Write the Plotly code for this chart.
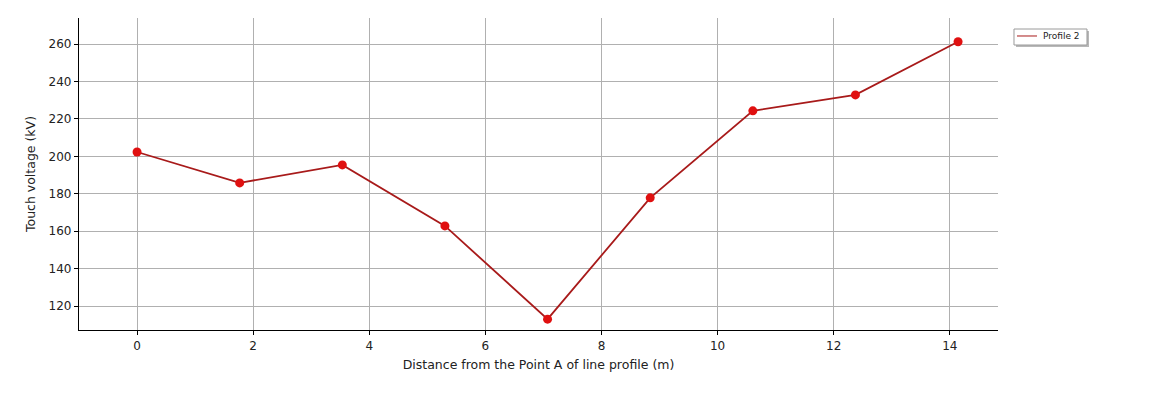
import plotly.graph_objects as go

distance = [0.0, 1.768, 3.536, 5.303, 7.071, 8.839, 10.607, 12.374, 14.142]
touch_voltage = [202.3, 185.8, 195.4, 162.8, 113.0, 177.8, 224.3, 232.8, 261.2]
series_name = "Profile 2"

LINE_COLOR = "#a81a1a"
MARKER_COLOR = "#e01010"

fig = go.Figure()
fig.add_trace(go.Scatter(
    x=distance, y=touch_voltage, mode="lines+markers", name=series_name,
    line=dict(color=LINE_COLOR, width=1.8),
    marker=dict(color=MARKER_COLOR, size=9),
    showlegend=False,
))

axis_common = dict(
    showgrid=True, gridcolor="#b0b0b0", gridwidth=1,
    showline=True, linecolor="black", linewidth=1.2,
    ticks="outside", ticklen=4, tickcolor="black",
    zeroline=False, mirror=False,
    tickfont=dict(family="DejaVu Sans", size=12, color="#222"),
)
fig.update_xaxes(range=[-1.0, 14.83], dtick=2, tick0=0,
                 title=dict(text="Distance from the Point A of line profile (m)",
                            font=dict(family="DejaVu Sans", size=12.5, color="#222"), standoff=8),
                 **axis_common)
fig.update_yaxes(range=[107.2, 273.9], dtick=20, tick0=0,
                 title=dict(text="Touch voltage (kV)",
                            font=dict(family="DejaVu Sans", size=12.5, color="#222"), standoff=10),
                 **axis_common)

# hand-drawn legend box (matplotlib style with shadow)
fig.add_shape(type="rect", xref="paper", yref="paper",
              x0=1.01959, x1=1.09902, y0=0.90705, y1=0.95833,
              fillcolor="#b8b8b8", line=dict(width=0))
fig.add_shape(type="rect", xref="paper", yref="paper",
              x0=1.01741, x1=1.09684, y0=0.91346, y1=0.96474,
              fillcolor="white", line=dict(color="#9a9a9a", width=1))
fig.add_shape(type="line", xref="paper", yref="paper",
              x0=1.02067, x1=1.04244, y0=0.94231, y1=0.94231,
              line=dict(color=LINE_COLOR, width=1))
fig.add_annotation(text=series_name, xref="paper", yref="paper",
                   x=1.0465, y=0.94231, xanchor="left", yanchor="middle",
                   showarrow=False,
                   font=dict(family="DejaVu Sans", size=9, color="#222"))

fig.update_layout(
    width=1149, height=414,
    plot_bgcolor="white", paper_bgcolor="white",
    margin=dict(l=71, r=159, t=10, b=92),
    showlegend=False,
)
fig.write_html("out.html")
